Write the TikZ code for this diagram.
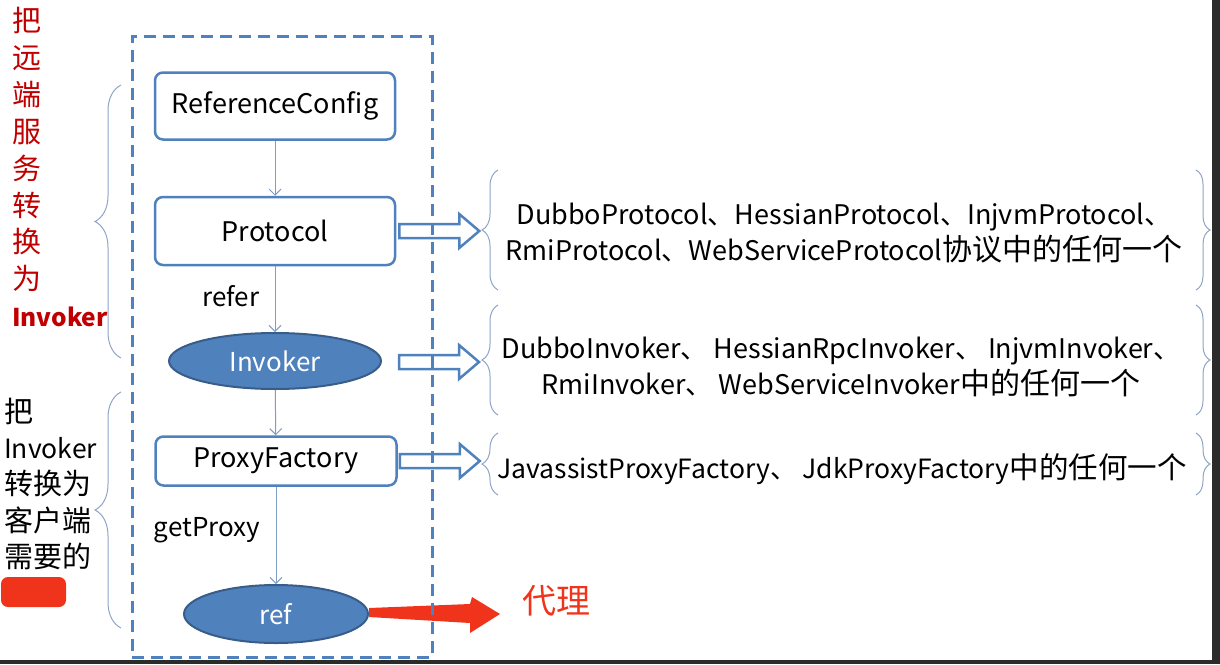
\documentclass[tikz,border=0pt]{standalone}
\usepackage{fontspec}
\setmainfont{Noto Sans CJK SC}
\usepackage{tikz}
\usetikzlibrary{arrows.meta,calc,shapes.geometric,decorations.pathreplacing}
\definecolor{boxblue}{RGB}{79,129,189}
\definecolor{darkblue}{RGB}{56,93,138}
\definecolor{linkblue}{RGB}{126,156,198}
\definecolor{bracegray}{RGB}{143,164,198}
\definecolor{darkred}{RGB}{192,0,0}
\definecolor{hotred}{RGB}{240,52,28}
\definecolor{barcolor}{RGB}{43,43,43}
\newcommand{\cjkbig}[1]{{\fontsize{30}{36}\selectfont #1}}

\begin{document}
\begin{tikzpicture}[x=1pt,y=-1pt,
	box/.style={shape=rectangle,rounded corners=8pt,draw=boxblue,line width=2.5pt,fill=white,minimum width=240pt,font=\fontsize{27}{30}\selectfont},
	oval/.style={shape=ellipse,draw=darkblue,line width=2pt,fill=boxblue,text=white,font=\fontsize{26}{30}\selectfont},
	link/.style={draw=linkblue,line width=1pt,-{Straight Barb[length=6pt,width=12pt]}},
	hollow/.style={draw=boxblue,line width=2.5pt,fill=white,line join=miter},
	lbrace/.style={draw=bracegray,line width=1pt,decorate,decoration={brace,amplitude=#1}},
	note/.style={align=center,font=\fontsize{27}{36}\selectfont}]
	\useasboundingbox (0,0) rectangle (1220,664);

	\node[box,minimum height=67pt] (refcfg) at (275, 106) {ReferenceConfig};
	\node[box,minimum height=68pt] (proto) at (275, 231) {Protocol};
	\node[oval,minimum width=212pt,minimum height=56pt] (invoker) at (275, 361) {Invoker};
	\node[box,minimum height=49pt,minimum width=241pt] (proxyfac) at (276, 461) {ProxyFactory};
	\node[oval,minimum width=184pt,minimum height=58pt] (ref) at (276, 614) {ref};

	\path[link] (refcfg) edge (proto);
	\path[link] (proto) edge node[pos=0.45,left=12pt,font=\fontsize{26}{30}\selectfont]{refer} (invoker);
	\path[link] (invoker) edge (proxyfac);
	\path[link] (proxyfac) edge node[pos=0.45,left=12pt,font=\fontsize{26}{30}\selectfont]{getProxy} (ref);

	\draw[hollow] ($(proto.east)+(3,-7)$) -- ++(60,0) -- ++(0,-10) -- ++(20,17) -- ++(-20,17) -- ++(0,-10) -- ++(-60,0) -- cycle;
	\draw[hollow] ($(invoker.east)+(17,-6)$) -- ++(60,0) -- ++(0,-10) -- ++(20,17) -- ++(-20,17) -- ++(0,-10) -- ++(-60,0) -- cycle;
	\draw[hollow] ($(proxyfac.east)+(2,-7)$) -- ++(60,0) -- ++(0,-10) -- ++(20,17) -- ++(-20,17) -- ++(0,-10) -- ++(-60,0) -- cycle;

	\draw[lbrace=16pt] (498, 290) -- (498, 170);
	\draw[lbrace=14pt] (1196, 170) -- (1196, 290);
	\draw[lbrace=16pt] (498, 415) -- (498, 305);
	\draw[lbrace=14pt] (1196, 305) -- (1196, 415);
	\draw[lbrace=16pt] (498, 495) -- (498, 433);
	\draw[lbrace=14pt] (1196, 433) -- (1196, 495);

	\node[note] (protolist) at (844, 233) {DubboProtocol、HessianProtocol、InjvmProtocol、\\RmiProtocol、WebServiceProtocol\cjkbig{协议中的任何一个}};
	\node[note] (invokerlist) at (841, 367) {DubboInvoker、 HessianRpcInvoker、 InjvmInvoker、\\RmiInvoker、 WebServiceInvoker\cjkbig{中的任何一个}};
	\node[note,font=\fontsize{26.5}{36}\selectfont] (proxylist) at (842, 469) {JavassistProxyFactory、 JdkProxyFactory{\fontsize{29.5}{36}\selectfont 中的任何一个}};

	\draw[lbrace=26pt] (121, 358) -- (121, 85);
	\draw[lbrace=26pt] (121, 628) -- (121, 392);

	\node[anchor=north west,inner sep=0pt,align=left,text=darkred,font=\fontsize{29}{36.9}\selectfont] (remote) at (12, 7) {把\\远\\端\\服\\务\\转\\换\\为\\{\bfseries\fontsize{24.5}{36.9}\selectfont Invoker}};
	\node[anchor=north west,inner sep=0pt,align=left,font=\fontsize{29}{36.2}\selectfont] (client) at (4, 398) {把\\{\fontsize{26.5}{36.2}\selectfont Invoker}\\转换为\\客户端\\需要的};
	\fill[hotred,rounded corners=7pt] (1, 577) rectangle (66, 607);

	\node[text=hotred,font=\fontsize{34}{40}\selectfont] (proxyword) at (556, 601) {代理};
	\fill[hotred] ($(ref.east)+(0,-6)$) -- (470, 604) -- (472, 597) -- (500, 614) -- (470, 633) -- (470, 623) -- ($(ref.east)+(0,3)$) -- cycle;

	\node[draw=boxblue,line width=3pt,dash pattern=on 12pt off 7pt,minimum width=300pt,minimum height=621pt,inner sep=0pt] (frame) at (282, 346.5) {};

	\fill[barcolor] (1212, 0) rectangle (1220, 664);
	\fill[barcolor] (0, 660) rectangle (1220, 664);
\end{tikzpicture}
\end{document}
